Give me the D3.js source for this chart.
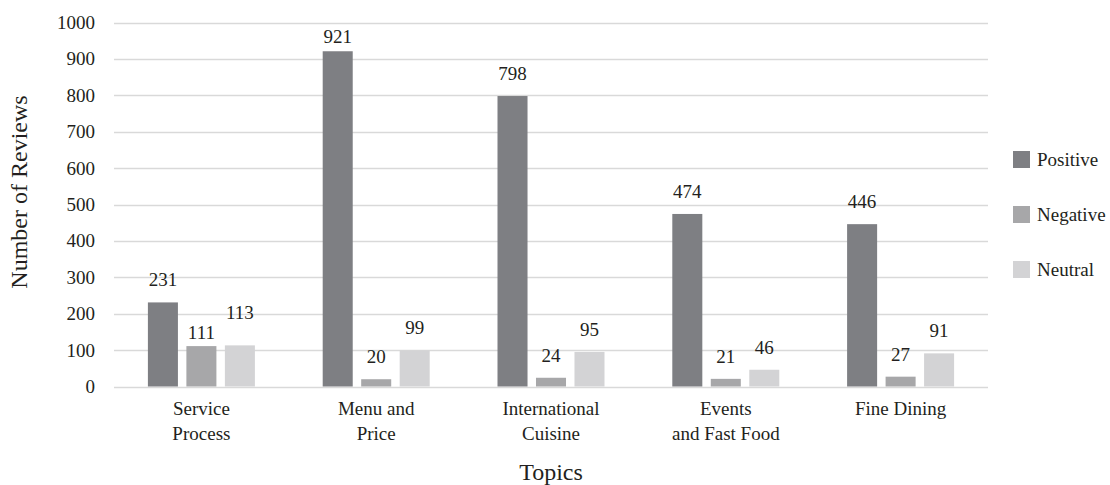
<!DOCTYPE html>
<html><head><meta charset="utf-8">
<script src="https://cdn.jsdelivr.net/npm/d3@7"></script>
<style>body{margin:0;background:#fff}svg{display:block}svg text{font-family:"Liberation Serif","DejaVu Serif",serif}</style>
</head><body><svg id="c" width="1110" height="485"></svg>
<script>
const categories = [["Service","Process"],["Menu and","Price"],["International","Cuisine"],["Events","and Fast Food"],["Fine Dining"]];
const seriesNames = ["Positive","Negative","Neutral"];
const positive = [231,921,798,474,446];
const negative = [111,20,24,21,27];
const neutral = [113,99,95,46,91];
const yTicks = [0,100,200,300,400,500,600,700,800,900,1000];
const colors = ["#7e7f83","#a7a7a9","#d3d3d5"];
const FF = "Liberation Serif";
const TC = "#231f20";

const svg = d3.select("#c");
const m = {l:114, r:988, t:22.5, b:386.5};
const x0 = d3.scaleBand().domain(d3.range(categories.length)).range([m.l, m.r]);
const x1 = d3.scaleBand().domain(seriesNames).range([-53.5, 53.5]).paddingInner(0.22);
const y = d3.scaleLinear().domain([0,1000]).range([m.b, m.t]);

// grid
svg.append("g").selectAll("line").data(yTicks).join("line")
  .attr("x1", m.l).attr("x2", m.r)
  .attr("y1", d=>Math.round(y(d))+0.5).attr("y2", d=>Math.round(y(d))+0.5)
  .attr("stroke","#d9d9d9").attr("stroke-width",1.3);

// y axis labels
const ya = svg.append("g").attr("transform",`translate(${m.l},0)`)
  .call(d3.axisLeft(y).tickValues(yTicks).tickFormat(d3.format("d")).tickSize(0).tickPadding(19));
ya.attr("font-family",FF).attr("font-size",19);
ya.select(".domain").remove();
ya.selectAll("text").attr("font-family",FF).attr("font-size",19).attr("fill",TC);

const series = [positive, negative, neutral];
const rows = [];
categories.forEach((c,i)=>seriesNames.forEach((s,j)=>rows.push({i, s, j, v: series[j][i]})));
const cx = i => x0(i) + x0.bandwidth()/2;

svg.append("g").selectAll("rect").data(rows).join("rect")
  .attr("x", d=>cx(d.i)+x1(d.s)).attr("width", x1.bandwidth())
  .attr("y", d=>y(d.v)).attr("height", d=>y(0)-y(d.v))
  .attr("fill", d=>colors[d.j]);

// label gap above bar (the original nudges a few labels)
const labelGap = d => (d.i===1 && d.j===0) ? 8 : (d.i===0 && d.j===1) ? 7 : (d.i===0 && d.j===2) ? 26 : 16;
svg.append("g").selectAll("text").data(rows).join("text")
  .attr("x", d=>cx(d.i)+x1(d.s)+x1.bandwidth()/2)
  .attr("y", d=>y(d.v)-labelGap(d))
  .attr("text-anchor","middle").attr("font-family",FF).attr("font-size",19).attr("fill",TC)
  .text(d=>d.v);

// x labels
const xl = svg.append("g").selectAll("text").data(categories).join("text")
  .attr("text-anchor","middle").attr("font-family",FF).attr("font-size",19).attr("fill",TC)
  .attr("transform",(d,i)=>`translate(${cx(i)},415)`);
xl.selectAll("tspan").data(d=>d).join("tspan")
  .attr("x",0).attr("dy",(d,k)=>k?25:0).text(d=>d);

// axis titles
svg.append("text").attr("x",(m.l+m.r)/2).attr("y",480).attr("text-anchor","middle")
  .attr("font-family",FF).attr("font-size",24).attr("fill",TC).text("Topics");
svg.append("text").attr("transform","translate(27,192) rotate(-90)").attr("text-anchor","middle")
  .attr("font-family",FF).attr("font-size",24).attr("fill",TC).text("Number of Reviews");

// legend
const lg = svg.append("g").selectAll("g").data(seriesNames).join("g")
  .attr("transform",(d,i)=>`translate(1013,${151+i*55})`);
lg.append("rect").attr("width",17).attr("height",17).attr("fill",(d,i)=>colors[i]);
lg.append("text").attr("x",24).attr("y",15).attr("font-family",FF).attr("font-size",19).attr("fill",TC).text(d=>d);
</script></body></html>
